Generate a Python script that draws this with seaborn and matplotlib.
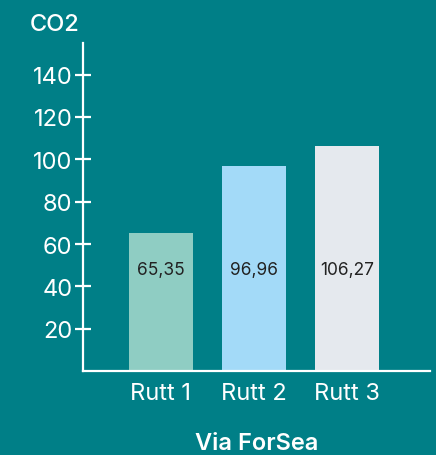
import matplotlib
matplotlib.use("Agg")
import matplotlib.pyplot as plt
import seaborn as sns
import pandas as pd

categories = ["Rutt 1", "Rutt 2", "Rutt 3"]
values = [65.35, 96.96, 106.27]
value_labels = ["65,35", "96,96", "106,27"]
yticks = [20, 40, 60, 80, 100, 120, 140]
bar_colors = ["#8FCDC3", "#A3DAF8", "#E5E9EE"]

BG = "#007F87"
sns.set_style("white")
plt.rcParams["font.family"] = ["Inter", "DejaVu Sans"]

df = pd.DataFrame({"route": categories, "co2": values})

fig = plt.figure(figsize=(4.36, 4.56), dpi=100, facecolor=BG)
ax = fig.add_axes([0.190, 0.184, 0.796, 0.72])
ax.set_facecolor(BG)

sns.barplot(data=df, x="route", y="co2", hue="route", palette=bar_colors,
            width=0.69, saturation=1, legend=False, linewidth=0, ax=ax)

for i, (v, lab) in enumerate(zip(values, value_labels)):
    ax.text(i, 48, lab, ha="center", va="center", fontsize=12.5, color="#222222")

ax.set_xlim(-0.84, 2.89)
ax.set_ylim(0, 155)
ax.set_yticks(yticks)
ax.set_yticklabels([str(t) for t in yticks])

for s in ["top", "right"]:
    ax.spines[s].set_visible(False)
for s in ["left", "bottom"]:
    ax.spines[s].set_color("white")
    ax.spines[s].set_linewidth(1.6)

ax.tick_params(axis="y", left=True, direction="inout", length=11, width=1.6,
               colors="white", labelsize=17, pad=2)
ax.tick_params(axis="x", bottom=False, length=0, colors="white", labelsize=17, pad=8)

ax.set_xlabel("Via ForSea", color="white", fontsize=17, fontweight="semibold", labelpad=20)
ax.set_ylabel("")

fig.text(30 / 436, 1 - 25 / 456, "CO2", color="white", fontsize=17,
         fontweight="medium", ha="left", va="center")

fig.savefig("out.png", dpi=100, facecolor=BG)
